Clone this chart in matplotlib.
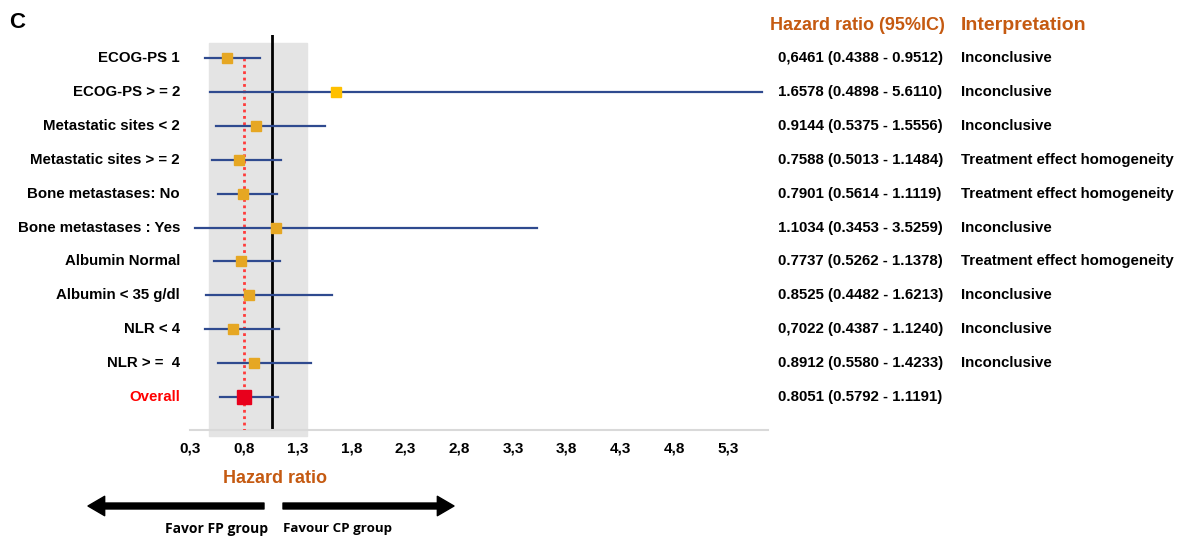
import matplotlib
matplotlib.use('Agg')
import matplotlib.pyplot as plt
from matplotlib.transforms import blended_transform_factory

plt.rcParams['font.family'] = ['Liberation Sans', 'DejaVu Sans']
plt.rcParams['font.weight'] = 'bold'

# subgroup data
groups = ['ECOG-PS 1', 'ECOG-PS > = 2', 'Metastatic sites < 2',
          'Metastatic sites > = 2', 'Bone metastases: No',
          'Bone metastases : Yes', 'Albumin Normal', 'Albumin < 35 g/dl',
          'NLR < 4', 'NLR > =  4', 'Overall']
hr = [0.6461, 1.6578, 0.9144, 0.7588, 0.7901, 1.1034, 0.7737, 0.8525,
      0.7022, 0.8912, 0.8051]
lo = [0.4388, 0.4898, 0.5375, 0.5013, 0.5614, 0.3453, 0.5262, 0.4482,
      0.4387, 0.5580, 0.5792]
hi = [0.9512, 5.6110, 1.5556, 1.1484, 1.1119, 3.5259, 1.1378, 1.6213,
      1.1240, 1.4233, 1.1191]
hr_text = ['0,6461', '1.6578', '0.9144', '0.7588', '0.7901', '1.1034',
           '0.7737', '0.8525', '0,7022', '0.8912', '0.8051']
interp = ['Inconclusive', 'Inconclusive', 'Inconclusive',
          'Treatment effect homogeneity', 'Treatment effect homogeneity',
          'Inconclusive', 'Treatment effect homogeneity', 'Inconclusive',
          'Inconclusive', 'Inconclusive', '']
xticks = [0.3, 0.8, 1.3, 1.8, 2.3, 2.8, 3.3, 3.8, 4.3, 4.8, 5.3]
ref_line = 1.065
band = (0.48, 1.385)

orange = '#C55A11'
blue = '#2F4A8F'

fig = plt.figure(figsize=(11.83, 5.36), dpi=100)
ax = fig.add_axes([0.1606, 0.1978, 0.4886, 0.7369])

ax.axvspan(band[0], band[1], ymin=-0.015, ymax=0.98, color='#E4E4E4',
           clip_on=False, zorder=0)
ax.axvline(ref_line, color='black', lw=2, zorder=2)
ax.plot([hr[-1], hr[-1]], [0, 10.97], color='#FF3B3B', lw=2,
        ls=(0, (1, 1.3)), zorder=3)

for i in range(len(groups)):
    ax.plot([lo[i], hi[i]], [i, i], color=blue, lw=1.6, zorder=4)
    if groups[i] == 'Overall':
        ax.plot(hr[i], i, 's', color='#E8001C', ms=10, zorder=5)
    elif hr[i] > 1.5:
        ax.plot(hr[i], i, 's', color='#FFC000', ms=7.5, zorder=5)
    else:
        ax.plot(hr[i], i, 's', color='#E6A723', ms=7.5, zorder=5)

ax.set_xlim(0.32, 5.67)
ax.set_ylim(10.97, -0.68)
ax.set_yticks([])
ax.set_xticks(xticks)
ax.set_xticklabels([('%.1f' % t).replace('.', ',') for t in xticks],
                   fontsize=11, fontweight='bold')
ax.tick_params(axis='x', length=0, pad=8)
for s in ['top', 'right', 'left']:
    ax.spines[s].set_visible(False)
ax.spines['bottom'].set_color('#D9D9D9')
ax.spines['bottom'].set_linewidth(1.5)
ax.patch.set_visible(False)

trans = blended_transform_factory(fig.transFigure, ax.transData)
for i in range(len(groups)):
    ax.text(0.1522, i, groups[i], transform=trans, ha='right', va='center',
            fontsize=10.8, fontweight='bold',
            color='#FF0000' if groups[i] == 'Overall' else 'black')
    ax.text(0.6577, i, '%s (%.4f - %.4f)' % (hr_text[i], lo[i], hi[i]),
            transform=trans, ha='left', va='center', fontsize=10.8,
            fontweight='bold')
    ax.text(0.8124, i, interp[i], transform=trans, ha='left', va='center',
            fontsize=10.8, fontweight='bold')

fig.text(0.651, 0.953, 'Hazard ratio (95%IC)', color=orange, fontsize=13,
         fontweight='bold', ha='left', va='center')
fig.text(0.8124, 0.953, 'Interpretation', color=orange, fontsize=14,
         fontweight='bold', ha='left', va='center')
fig.text(0.008, 0.958, 'C', fontsize=16, fontweight='bold', va='center')
fig.text(0.2325, 0.108, 'Hazard ratio', color=orange, fontsize=13,
         fontweight='bold', ha='center', va='center')

arrow = dict(width=4.3, headwidth=14, headlength=12, color='black')
ax.annotate('', xy=(88, 30), xytext=(264, 30), xycoords='figure pixels',
            textcoords='figure pixels', arrowprops=arrow)
ax.annotate('', xy=(454, 30), xytext=(283, 30), xycoords='figure pixels',
            textcoords='figure pixels', arrowprops=arrow)
fig.text(0.1834, 0.026, 'Favor FP group', fontsize=10, fontweight='bold',
         ha='center', va='top', family=['Open Sans', 'DejaVu Sans'])
fig.text(0.2857, 0.026, 'Favour CP group', fontsize=9.6, fontweight='bold',
         ha='center', va='top', family=['Open Sans', 'DejaVu Sans'])

fig.savefig('out.png', dpi=100)
